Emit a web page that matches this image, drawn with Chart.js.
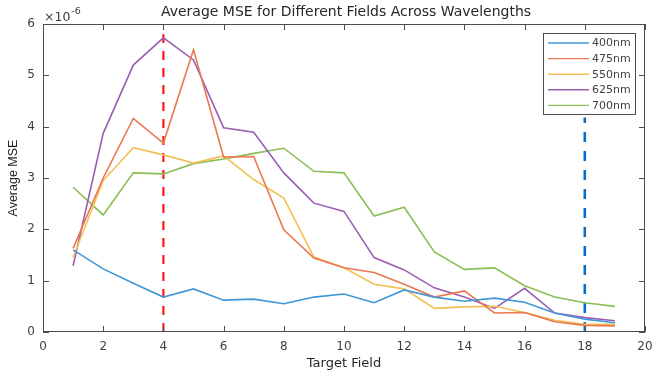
<!DOCTYPE html>
<html>
<head>
<meta charset="utf-8">
<script src="https://cdn.jsdelivr.net/npm/chart.js@4"></script>
<style>
  html, body { margin: 0; padding: 0; background: #fff; }
  #wrap { width: 654px; height: 373px; }
</style>
</head>
<body>
<div id="wrap"><canvas id="mseChart" width="654" height="373"></canvas></div>
<script>
// target fields on the x axis
const fields = [1, 2, 3, 4, 5, 6, 7, 8, 9, 10, 11, 12, 13, 14, 15, 16, 17, 18, 19];

// average MSE per wavelength, in units of 1e-6
const mse400 = [1.60, 1.23, 0.95, 0.68, 0.84, 0.62, 0.64, 0.55, 0.68, 0.74, 0.57, 0.82, 0.68, 0.60, 0.66, 0.58, 0.37, 0.25, 0.18];
const mse475 = [1.63, 3.00, 4.16, 3.68, 5.50, 3.41, 3.42, 1.99, 1.44, 1.25, 1.16, 0.93, 0.68, 0.80, 0.37, 0.38, 0.20, 0.13, 0.12];
const mse550 = [1.45, 2.95, 3.59, 3.45, 3.29, 3.43, 2.97, 2.61, 1.46, 1.25, 0.93, 0.84, 0.46, 0.49, 0.50, 0.38, 0.23, 0.15, 0.15];
const mse625 = [1.29, 3.87, 5.20, 5.73, 5.30, 3.98, 3.89, 3.10, 2.51, 2.35, 1.45, 1.21, 0.86, 0.68, 0.46, 0.85, 0.37, 0.28, 0.22];
const mse700 = [2.82, 2.28, 3.10, 3.08, 3.28, 3.37, 3.48, 3.58, 3.13, 3.10, 2.26, 2.43, 1.56, 1.22, 1.25, 0.90, 0.68, 0.57, 0.50];

const seriesLabels = ['400nm', '475nm', '550nm', '625nm', '700nm'];
const seriesColors = ['#3f97d8', '#e9774f', '#f2c055', '#9c5db3', '#8bbf55'];

// dashed marker lines
const redMarker = { x: 4, top: 5.8 };
const blueMarker = { x: 18, top: 4.18 };

const xTicks = { min: 0, max: 20, step: 2 };
const yTicks = { min: 0, max: 6, step: 1 };

const textColor = '#404040';
const axisColor = '#4d4d4d';

function pointsFor(values) {
  return fields.map((f, i) => ({ x: f, y: values[i] }));
}

const allSeries = [mse400, mse475, mse550, mse625, mse700];
const datasets = allSeries.map((vals, i) => ({
  label: seriesLabels[i],
  data: pointsFor(vals),
  borderColor: seriesColors[i],
  backgroundColor: seriesColors[i],
  borderWidth: 1.6,
  pointRadius: 0,
  tension: 0,
  fill: false
}));

datasets.push({
  label: 'marker-red',
  data: [{ x: redMarker.x, y: 0 }, { x: redMarker.x, y: redMarker.top }],
  borderColor: '#ff1a1a',
  borderWidth: 2.2,
  borderDash: [9, 8],
  pointRadius: 0
});
datasets.push({
  label: 'marker-blue',
  data: [{ x: blueMarker.x, y: 0 }, { x: blueMarker.x, y: blueMarker.top }],
  borderColor: '#0a6fc4',
  borderWidth: 2.6,
  borderDash: [10, 9],
  pointRadius: 0
});

// box, inward ticks, title, exponent and legend in MATLAB style
const matlabFrame = {
  id: 'matlabFrame',
  afterDraw(chart) {
    const ctx = chart.ctx;
    const a = chart.chartArea;
    const xs = chart.scales.x;
    const ys = chart.scales.y;
    ctx.save();

    ctx.strokeStyle = axisColor;
    ctx.lineWidth = 1;
    ctx.strokeRect(a.left + 0.5, a.top + 0.5, a.right - a.left - 1, a.bottom - a.top - 1);

    ctx.beginPath();
    for (let v = xTicks.min; v <= xTicks.max; v += xTicks.step) {
      const px = Math.round(xs.getPixelForValue(v)) + 0.5;
      ctx.moveTo(px, a.bottom);
      ctx.lineTo(px, a.bottom - 6);
      ctx.moveTo(px, a.top);
      ctx.lineTo(px, a.top + 6);
    }
    for (let v = yTicks.min; v <= yTicks.max; v += yTicks.step) {
      const py = Math.round(ys.getPixelForValue(v)) + 0.5;
      ctx.moveTo(a.left, py);
      ctx.lineTo(a.left + 6, py);
      ctx.moveTo(a.right, py);
      ctx.lineTo(a.right - 6, py);
    }
    ctx.stroke();

    // title
    ctx.fillStyle = '#262626';
    ctx.font = '14px "DejaVu Sans"';
    ctx.textAlign = 'center';
    ctx.textBaseline = 'middle';
    ctx.fillText('Average MSE for Different Fields Across Wavelengths', 346, 12);

    // exponent
    ctx.fillStyle = textColor;
    ctx.textAlign = 'left';
    ctx.textBaseline = 'alphabetic';
    ctx.font = '12.5px "DejaVu Sans"';
    ctx.fillText('\u00d710', a.left + 1, 21);
    const w = ctx.measureText('\u00d710').width;
    ctx.font = '9.5px "DejaVu Sans"';
    ctx.fillText('-6', a.left + 2 + w, 14);

    // legend
    const lx = 543, ly = 33, lw = 92, lh = 81;
    ctx.fillStyle = '#ffffff';
    ctx.fillRect(lx, ly, lw, lh);
    ctx.strokeStyle = '#4d4d4d';
    ctx.lineWidth = 1;
    ctx.strokeRect(lx + 0.5, ly + 0.5, lw, lh);
    ctx.font = '11px "DejaVu Sans"';
    ctx.textBaseline = 'middle';
    seriesLabels.forEach((lab, i) => {
      const y = ly + 10 + i * 15.6;
      ctx.strokeStyle = seriesColors[i];
      ctx.lineWidth = 1.4;
      ctx.beginPath();
      ctx.moveTo(lx + 5, y);
      ctx.lineTo(lx + 46, y);
      ctx.stroke();
      ctx.fillStyle = textColor;
      ctx.fillText(lab, lx + 49, y + 0.5);
    });

    ctx.restore();
  }
};

new Chart(document.getElementById('mseChart'), {
  type: 'line',
  data: { datasets: datasets },
  options: {
    responsive: false,
    animation: false,
    layout: { padding: { top: 24, right: 9, left: 0, bottom: 0 } },
    plugins: {
      legend: { display: false },
      title: { display: false },
      tooltip: { enabled: false }
    },
    scales: {
      x: {
        type: 'linear',
        min: xTicks.min,
        max: xTicks.max,
        afterFit(scale) {
          scale.height = 41;
          scale.paddingLeft = 0;
          scale.paddingRight = 0;
        },
        grid: { display: false, drawTicks: false },
        border: { display: false },
        ticks: {
          stepSize: xTicks.step,
          padding: 8,
          color: textColor,
          font: { family: 'DejaVu Sans', size: 12 },
          maxRotation: 0
        },
        title: {
          display: true,
          text: 'Target Field',
          color: '#262626',
          font: { family: 'DejaVu Sans', size: 13 },
          padding: { top: 0, bottom: 2 }
        }
      },
      y: {
        min: yTicks.min,
        max: yTicks.max,
        afterFit(scale) {
          scale.width = 43;
          scale.paddingTop = 0;
          scale.paddingBottom = 0;
        },
        grid: { display: false, drawTicks: false },
        border: { display: false },
        ticks: {
          stepSize: yTicks.step,
          padding: 8,
          color: textColor,
          font: { family: 'DejaVu Sans', size: 12 }
        },
        title: {
          display: true,
          text: 'Average MSE',
          color: '#262626',
          font: { family: 'Liberation Sans', size: 12.5 },
          padding: { top: 6, bottom: 0 }
        }
      }
    }
  },
  plugins: [matlabFrame]
});
</script>
</body>
</html>
